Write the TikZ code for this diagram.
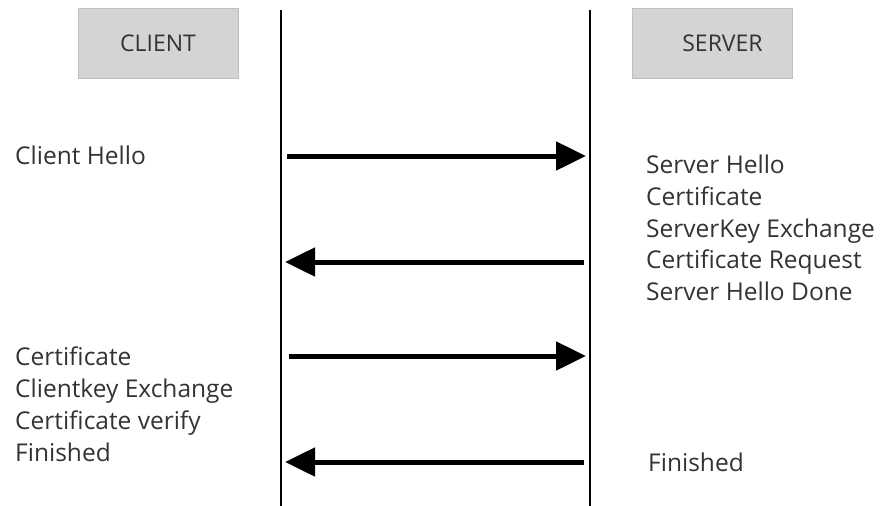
\documentclass[tikz,border=0pt]{standalone}
\usepackage{fontspec}
\setmainfont{Open Sans}
\usetikzlibrary{arrows.meta}
\definecolor{boxgray}{HTML}{D4D4D4}
\definecolor{txt}{HTML}{333333}
\tikzset{
  hdr/.style={draw=boxgray!90!black, line width=0.5pt, fill=boxgray, minimum width=160pt, minimum height=70pt, inner sep=0pt, font=\fontsize{23}{26}\selectfont, text=txt},
  life/.style={line width=2.6pt, black},
  msg/.style={line width=5pt, -{Triangle[length=30pt,width=28pt]}},
  lbl/.style={anchor=west, align=left, inner sep=0pt, text=txt, font=\fontsize{24.5}{31.7}\selectfont}
}
\begin{document}
\begin{tikzpicture}[x=1pt,y=-1pt]
\useasboundingbox (0,0) rectangle (881,506);
\node[hdr] (client) at (158,43) {CLIENT};
\node[hdr] (server) at (712.5,43.5) {\hspace*{20pt}SERVER};
\coordinate (ct) at (281,10); \coordinate (cb) at (281,506);
\coordinate (st) at (590,10); \coordinate (sb) at (590,506);
\draw[life] (ct) -- (cb);
\draw[life] (st) -- (sb);
\coordinate (a1s) at (287,156); \coordinate (a1e) at (586,156);
\coordinate (a2s) at (584,262); \coordinate (a2e) at (285,262);
\coordinate (a3s) at (289,356); \coordinate (a3e) at (586,356);
\coordinate (a4s) at (584,462); \coordinate (a4e) at (285,462);
\draw[msg] (a1s) -- (a1e);
\draw[msg] (a2s) -- (a2e);
\draw[msg] (a3s) -- (a3e);
\draw[msg] (a4s) -- (a4e);
\node[lbl] (ch) at (15,155) {Client Hello};
\node[lbl, anchor=north west] (sh) at (646,155) {Server Hello\\Certificate\\ServerKey Exchange\\Certificate Request\\Server Hello Done};
\node[lbl, anchor=north west] (cc) at (15,347) {Certificate\\Clientkey Exchange\\Certificate verify\\Finished};
\node[lbl] (sf) at (648,462) {Finished};
\end{tikzpicture}
\end{document}
